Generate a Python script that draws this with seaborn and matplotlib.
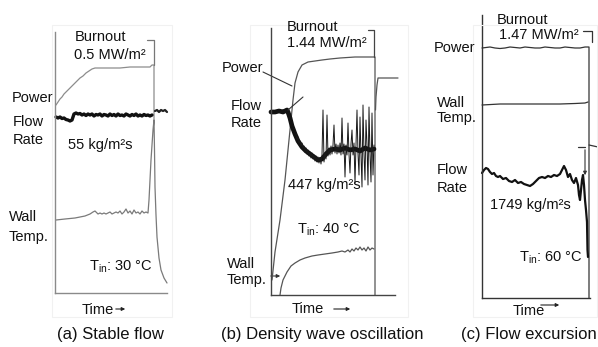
import matplotlib
matplotlib.use("Agg")
import matplotlib.pyplot as plt
from matplotlib.patches import Rectangle, FancyArrowPatch
import numpy as np
import seaborn as sns

# ---------------- data (time / signal units) ----------------
# (a) Stable flow
power_a_t = [1, 3, 5, 7, 9, 11, 13, 15, 17, 19, 21, 23, 25, 28, 31, 34, 37, 40, 45, 55, 65, 75, 85, 91, 95, 97, 99, 99]
power_a_v = [188, 191, 194, 196, 199, 201, 203, 205, 207, 209, 211, 213, 215, 217, 220, 222, 224, 225, 225, 225, 225, 226, 226, 226, 226, 228, 228, 173]
wall_a_t = [1, 10, 20, 30, 35, 38, 40, 41, 43, 45, 47, 49, 51, 53, 55, 57, 59, 61, 63, 65, 67, 69, 71, 73, 75, 77, 79, 81, 83, 85, 87, 89, 91, 93, 94, 95, 96, 97, 98, 99,
            99.5, 100, 101, 102, 104, 106, 109, 112]
wall_a_v = [73, 74, 75, 77, 79, 81, 82, 81, 79, 80, 79, 80, 79, 80, 81, 79, 80, 81, 80, 82, 79, 81, 84, 80, 82, 79, 83, 80, 81, 79, 82, 80, 81, 80, 93, 113, 133, 148, 163, 173,
            143, 106, 78, 56, 35, 23, 15, 10]
flow_a_t = [1, 3, 5, 7, 9, 11, 13, 15, 17, 18, 19, 21, 23, 25, 27, 29, 31, 33, 35, 37, 39, 41, 43, 45, 47, 49, 51, 53, 55, 57,
            59, 61, 63, 65, 67, 69, 71, 73, 75, 77, 79, 81, 83, 85, 87, 89, 91, 93, 95, 97]
flow_a_v = [176, 175, 176, 174.5, 175, 173.5, 173, 172, 173, 176, 179, 180, 179, 179.5, 178, 179, 177.5, 179, 178, 179,
            177, 178.5, 178, 179, 177, 178.5, 178, 177, 179, 177.5, 178.5, 177, 179, 177.5, 178, 177, 179, 178, 177, 178.5,
            177.5, 179, 177, 178, 177, 178.5, 177.5, 178, 177, 178]
flow_a_post_t = [100, 102, 104, 106, 108, 110, 112]
flow_a_post_v = [182, 183, 181, 183, 182, 183, 181]

# (b) Density wave oscillation
power_b_t = [1, 4, 9, 14, 19, 22, 24, 27, 31, 37, 44, 51, 59, 69, 84, 94, 104, 104]
power_b_v = [15, 43, 75, 115, 165, 195, 212, 223, 230, 233, 234, 235, 236, 237, 238, 238, 238, 0]
power_b_post_t = [104.5, 105, 106, 107, 119, 127]
power_b_post_v = [185, 198, 210, 217, 217, 217]
flow_b_mean_t = [0, 4, 8, 12, 14, 16, 17, 19, 21, 24, 27, 31, 35, 39, 43, 47, 51, 55, 59, 64, 69, 74, 79, 84, 89, 94, 99, 103]
flow_b_mean_v = [183, 183, 184, 183, 184, 185, 183, 177, 169, 161, 154, 148, 144, 141, 138, 135, 136, 141, 145, 146, 145, 147, 145, 146, 144, 147, 145, 146]
flow_b_osc_v = [161, 155, 158, 152, 154, 149, 152, 146, 149, 143, 147, 141, 145, 139, 143, 137, 142, 136, 140, 134,
                139, 133, 138, 132, 137,
                131, 140, 185, 133, 142, 136, 180, 139, 147, 140, 149, 141, 150, 170, 142, 151, 141, 150, 142, 152,
                140, 177, 141, 151, 118, 150, 140, 172, 141, 122, 151, 165, 140, 152, 112, 150, 185, 141, 120, 178,
                140, 108, 190, 141, 115, 175, 150, 110, 188, 141, 113, 182, 120, 150]
flow_b_osc_start = 25
wall_b_t = [9, 10, 12, 16, 20, 24, 29, 34, 41, 47, 54, 61, 67, 71, 74, 77, 79, 81, 83, 85, 87, 89, 91, 93, 95, 97, 99, 101, 103]
wall_b_v = [0, 7, 15, 23, 29, 32, 35, 37, 39, 40, 41, 42, 43, 44, 43, 45, 43, 46, 44, 47, 45, 48, 45, 47, 44, 48, 45, 47, 46]

# (c) Flow excursion
power_c_t = [0, 4, 8, 13, 18, 23, 28, 33, 38, 43, 48, 53, 58, 63, 68, 73, 78, 83, 88, 93, 98, 103, 106, 107, 107]
power_c_v = [250, 250.5, 251, 250, 249.5, 250, 251, 250.5, 250, 251, 250.5, 250, 250, 251, 250.5, 250, 250, 251, 250.5, 250, 250, 251, 251, 251, 0]
wall_c_t = [0, 18, 38, 58, 78, 93, 103, 106]
wall_c_v = [193, 194, 194, 194, 194, 194.5, 195, 196]
flow_c_t = [0, 2, 4, 6, 8, 10, 12, 14, 16, 18, 21, 24, 27, 30, 33, 36, 39, 42, 45, 48, 51, 54, 57, 60, 63, 66, 69, 72, 75, 78,
            80, 82, 84, 86, 88, 90, 92, 94, 96, 97, 98, 99, 100, 101, 102, 103, 104, 105, 105.5, 106]
flow_c_v = [125, 128, 130, 129, 126, 124, 125, 122, 121, 122, 119, 120, 117, 116, 118, 115, 116, 114, 113, 112, 114, 117, 120, 121, 120, 122, 121, 123, 122, 124,
            128, 132, 128, 121, 124, 118, 115, 120, 113, 103, 98, 108, 118, 123, 113, 98, 88, 76, 48, 41]

labels_a = ["Burnout", "0.5 MW/m²", "Power", "Flow", "Rate", "55 kg/m²s", "Wall", "Temp.", r"T$_\mathregular{in}$: 30 °C", "Time", "(a) Stable flow"]
labels_b = ["Burnout", "1.44 MW/m²", "Power", "Flow", "Rate", "447 kg/m²s", "Wall", "Temp.", r"T$_\mathregular{in}$: 40 °C", "Time", "(b) Density wave oscillation"]
labels_c = ["Burnout", "1.47 MW/m²", "Power", "Wall", "Temp.", "Flow", "Rate", "1749 kg/m²s", r"T$_\mathregular{in}$: 60 °C", "Time", "(c) Flow excursion"]

# ---------------- style ----------------
sns.set_style("white")
plt.rcParams["font.family"] = ["Liberation Sans", "DejaVu Sans"]
plt.rcParams["mathtext.fontset"] = "custom"
plt.rcParams["mathtext.rm"] = "Liberation Sans"

W, H = 598, 347
fig = plt.figure(figsize=(W / 100, H / 100), dpi=100)
fig.patch.set_facecolor("white")


def fpos(x, y):
    return (x / W, 1 - y / H)


def ptext(x, y, s, ha="left", size=10.5, color="#111111"):
    fig.text(x / W, 1 - y / H, s, ha=ha, va="center", fontsize=size, color=color)


def panel_axes(left, top, right, bottom, ytop, xend, color):
    ax = fig.add_axes([left / W, 1 - bottom / H, (right - left) / W, (bottom - top) / H])
    ax.set_xticks([])
    ax.set_yticks([])
    ax.patch.set_alpha(0)
    for s in ["top", "right"]:
        ax.spines[s].set_visible(False)
    ax.spines["left"].set_bounds(0, ytop)
    ax.spines["bottom"].set_bounds(0, xend)
    for s in ["left", "bottom"]:
        ax.spines[s].set_color(color)
        ax.spines[s].set_linewidth(1.0)
    ax._lim = (right - left, bottom - top)
    return ax


def trace(ax, t, v, color, lw):
    sns.lineplot(x=t, y=v, sort=False, estimator=None, color=color, linewidth=lw, ax=ax, legend=False)
    ax.lines[-1].set_clip_on(False)


def finish(ax):
    ax.set_xlim(0, ax._lim[0])
    ax.set_ylim(0, ax._lim[1])
    ax.set_xlabel("")
    ax.set_ylabel("")


# faint scan borders
for (x0, y0, x1, y1) in [(52, 25, 172, 317), (250, 25, 408, 317), (473, 25, 597, 317)]:
    fig.add_artist(Rectangle(fpos(x0, y1), (x1 - x0) / W, (y1 - y0) / H, transform=fig.transFigure,
                             fill=False, edgecolor="#f1f1f1", linewidth=0.8))

# ---------------- panel (a) ----------------
ax_a = panel_axes(55, 25, 172, 293, 261, 112, "#8a8a8a")
trace(ax_a, power_a_t, power_a_v, "#8c8c8c", 0.9)
trace(ax_a, wall_a_t, wall_a_v, "#7a7a7a", 0.9)
trace(ax_a, flow_a_t, flow_a_v, "#111111", 2.4)
trace(ax_a, flow_a_post_t, flow_a_post_v, "#222222", 1.6)
ax_a.plot([92, 99, 99], [253, 253, 228], color="#777777", lw=0.9, clip_on=False)
finish(ax_a)

for s, x, y, ha in zip(labels_a,
                       [100, 110, 53, 13, 13, 68, 9, 9, 89, 82, 110],
                       [37, 55, 98, 122, 140, 145, 217, 237, 267, 310, 335],
                       ["center", "center", "right", "left", "left", "left", "left", "left", "left", "left", "center"]):
    ptext(x, y, s, ha=ha, size=12 if s.startswith("(") else 10.5)
fig.add_artist(FancyArrowPatch(fpos(113, 309), fpos(128, 309), transform=fig.transFigure,
                               arrowstyle="-|>", mutation_scale=5, lw=0.8, color="#222222"))

# ---------------- panel (b) ----------------
ax_b = panel_axes(271, 25, 400, 295, 267, 124, "#444444")
trace(ax_b, power_b_t, power_b_v, "#555555", 0.9)
trace(ax_b, power_b_post_t, power_b_post_v, "#555555", 0.9)
trace(ax_b, wall_b_t, wall_b_v, "#555555", 0.9)
trace(ax_b, flow_b_mean_t, flow_b_mean_v, "#111111", 3.4)
osc_t = np.arange(flow_b_osc_start, flow_b_osc_start + len(flow_b_osc_v))
trace(ax_b, osc_t, flow_b_osc_v, "#1a1a1a", 0.7)
ax_b.plot([97, 103, 103], [265, 265, 238], color="#444444", lw=0.9, clip_on=False)
ax_b.plot([-8, 21], [223, 209], color="#333333", lw=0.8, clip_on=False)
ax_b.plot([17, 32], [185, 198], color="#333333", lw=0.8, clip_on=False)
ax_b.add_patch(FancyArrowPatch((-3, 19), (12, 19), arrowstyle="-|>", mutation_scale=5, lw=0.8,
                               color="#333333", clip_on=False))
finish(ax_b)

for s, x, y, ha in zip(labels_b,
                       [287, 287, 263, 231, 231, 288, 227, 227, 297, 292, 322],
                       [27, 43, 68, 106, 123, 185, 264, 280, 230, 309, 335],
                       ["left", "left", "right", "left", "left", "left", "left", "left", "left", "left", "center"]):
    ptext(x, y, s, ha=ha, size=12 if s.startswith("(") else 10.5)
fig.add_artist(FancyArrowPatch(fpos(331, 309), fpos(353, 309), transform=fig.transFigure,
                               arrowstyle="-|>", mutation_scale=5, lw=0.8, color="#222222"))

# ---------------- panel (c) ----------------
ax_c = panel_axes(482, 15, 598, 298, 283, 108, "#333333")
trace(ax_c, power_c_t, power_c_v, "#333333", 0.9)
trace(ax_c, wall_c_t, wall_c_v, "#333333", 0.9)
trace(ax_c, flow_c_t, flow_c_v, "#111111", 1.6)
ax_c.plot([101, 110, 110], [267, 267, 256], color="#333333", lw=0.9, clip_on=False)
ax_c.plot([107, 116], [153, 151], color="#333333", lw=0.9, clip_on=False)
ax_c.plot([96, 103], [151, 151], color="#333333", lw=0.9, clip_on=False)
ax_c.add_patch(FancyArrowPatch((103, 151), (103, 120), arrowstyle="-|>", mutation_scale=5, lw=0.8,
                               color="#333333", clip_on=False))
finish(ax_c)

for s, x, y, ha in zip(labels_c,
                       [497, 499, 475, 437, 437, 437, 437, 490, 519, 513, 529],
                       [20, 35, 48, 103, 118, 170, 188, 205, 258, 311, 335],
                       ["left", "left", "right", "left", "left", "left", "left", "left", "left", "left", "center"]):
    ptext(x, y, s, ha=ha, size=12 if s.startswith("(") else 10.5)
fig.add_artist(FancyArrowPatch(fpos(538, 305), fpos(562, 305), transform=fig.transFigure,
                               arrowstyle="-|>", mutation_scale=5, lw=0.8, color="#222222"))

fig.savefig("out.png", dpi=100, facecolor="white")
